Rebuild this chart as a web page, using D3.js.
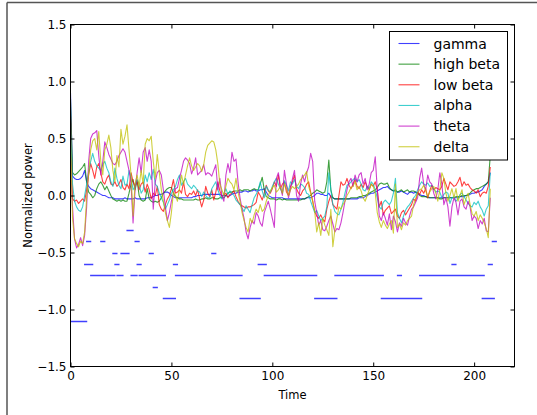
<!DOCTYPE html>
<html>
<head>
<meta charset="utf-8">
<script src="https://cdn.jsdelivr.net/npm/d3@7"></script>
<style>
  html, body { margin: 0; padding: 0; background: #fff; }
  svg { display: block; }
  text { font-family: "DejaVu Sans", sans-serif; fill: #000; }
</style>
</head>
<body>
<svg id="chart" width="537" height="415"></svg>
<script>
// Band power series, one value per time step (t = 0 .. 208)
const gamma = [0.90,0.17,0.15,0.14,0.14,0.15,0.17,0.22,0.12,0.08,
 0.06,0.05,0.04,0.03,0.02,0.01,0.00,0.00,-0.01,-0.02,
 -0.02,-0.02,-0.03,-0.03,-0.03,-0.03,-0.03,-0.02,-0.03,-0.03,
 -0.03,-0.03,-0.02,-0.03,-0.03,-0.03,-0.03,-0.03,-0.02,-0.02,
 -0.02,-0.01,0.00,0.00,0.01,0.01,0.02,0.03,0.03,0.02,
 0.00,-0.01,-0.02,-0.02,-0.02,-0.02,-0.02,-0.02,-0.02,-0.02,
 -0.02,-0.01,-0.01,0.00,0.00,0.00,0.01,0.01,0.01,0.01,
 0.01,0.01,0.01,0.01,0.01,0.00,0.00,0.00,-0.01,0.00,
 0.01,0.02,0.02,0.03,0.03,0.03,0.04,0.04,0.03,0.04,
 0.04,0.05,0.04,0.04,0.05,0.05,0.06,0.03,0.00,-0.01,
 -0.02,-0.02,-0.02,-0.02,-0.02,-0.02,-0.03,-0.03,-0.03,-0.03,
 -0.03,-0.03,-0.03,-0.03,-0.03,-0.03,-0.03,-0.02,-0.02,-0.02,
 -0.01,0.00,0.02,0.02,0.01,0.01,0.00,0.00,0.02,-0.01,
 -0.02,-0.03,-0.03,-0.03,-0.03,-0.03,-0.03,-0.03,-0.03,-0.03,
 -0.03,-0.03,-0.03,-0.02,-0.02,-0.02,-0.01,0.00,0.01,0.02,
 0.02,0.03,0.04,0.05,0.06,0.07,0.07,0.08,0.06,0.05,
 0.04,0.04,0.03,0.03,0.04,0.03,0.02,0.01,0.03,0.03,
 0.02,0.03,0.02,0.01,0.00,0.00,-0.01,-0.01,-0.02,-0.02,
 -0.02,-0.02,-0.02,-0.02,-0.02,-0.02,-0.02,-0.02,-0.02,-0.02,
 -0.02,-0.02,-0.02,-0.01,-0.01,-0.01,0.00,0.00,0.01,0.02,
 0.02,0.03,0.03,0.04,0.05,0.08,0.10,0.12,0.20];

const highBeta = [0.85,0.20,0.18,0.19,0.21,0.23,0.25,0.28,0.12,0.03,
 0.01,-0.02,0.00,0.06,0.10,0.12,0.09,0.05,0.08,0.04,
 0.00,-0.03,-0.04,-0.05,-0.04,-0.05,-0.04,-0.05,-0.05,0.02,
 0.10,0.14,0.05,0.13,0.00,-0.04,-0.05,-0.04,0.06,-0.03,
 -0.05,-0.06,-0.05,-0.06,-0.05,-0.02,0.02,0.04,0.06,0.07,
 0.07,0.02,-0.01,-0.02,-0.03,-0.03,-0.04,-0.04,-0.04,-0.04,
 -0.04,-0.04,-0.03,-0.04,-0.04,-0.03,-0.03,-0.02,-0.03,-0.03,
 -0.02,-0.02,-0.03,-0.03,-0.02,-0.02,-0.02,0.00,0.02,0.03,
 0.03,0.04,0.04,0.04,0.05,0.04,0.05,0.05,0.05,0.04,
 0.05,0.06,0.05,0.05,0.10,0.16,0.05,-0.01,-0.02,-0.03,
 -0.03,-0.03,-0.04,-0.03,-0.03,-0.04,-0.03,-0.04,-0.04,-0.04,
 -0.04,-0.04,-0.04,-0.04,-0.04,-0.03,-0.03,-0.02,-0.01,0.00,
 0.02,0.03,0.05,0.04,0.03,0.02,0.03,0.12,0.31,0.05,
 -0.02,-0.03,-0.03,-0.03,-0.03,-0.03,-0.03,-0.03,-0.03,-0.02,
 -0.02,-0.02,-0.02,-0.01,-0.01,0.00,0.00,0.01,0.02,0.03,
 0.04,0.05,0.07,0.10,0.11,0.10,0.10,0.11,0.07,0.05,
 0.04,0.05,0.03,0.04,0.05,0.03,0.04,0.05,0.03,0.04,
 0.04,0.03,0.02,0.00,-0.01,-0.01,-0.01,-0.02,-0.02,-0.02,
 -0.02,-0.02,-0.02,-0.03,-0.03,-0.02,-0.02,-0.02,-0.02,-0.02,
 -0.02,-0.01,-0.01,-0.01,0.00,0.00,0.00,0.01,0.02,0.04,
 0.05,0.06,0.06,0.07,0.08,0.09,0.10,0.12,0.35];

const lowBeta = [0.70,-0.03,-0.05,-0.04,-0.07,-0.05,-0.03,-0.05,0.05,0.18,
 0.28,0.22,0.15,0.25,0.28,0.20,0.12,0.10,0.15,0.18,
 0.10,0.09,0.12,0.08,0.10,0.14,0.07,0.05,0.10,0.06,
 0.20,0.12,0.08,0.13,0.05,0.10,0.12,0.03,0.10,0.05,
 -0.03,0.02,0.00,0.08,-0.08,-0.12,-0.14,-0.08,-0.03,0.00,
 0.06,0.14,0.02,0.03,0.05,0.02,0.12,0.01,-0.01,0.02,
 0.01,0.04,0.00,0.05,-0.03,-0.10,-0.04,0.08,0.02,-0.01,
 0.05,-0.04,0.03,0.12,0.04,-0.01,0.00,0.02,-0.02,0.01,
 0.02,0.04,-0.01,-0.05,-0.08,-0.09,-0.10,-0.11,-0.10,-0.10,
 -0.09,-0.08,-0.06,0.03,0.00,-0.04,0.02,0.09,0.04,0.02,
 0.06,0.12,0.08,0.18,0.06,0.10,0.12,0.03,0.00,0.08,
 0.12,0.18,0.06,0.02,0.00,0.04,0.06,0.10,0.12,0.03,
 -0.05,-0.14,-0.18,-0.20,-0.17,-0.21,-0.23,-0.12,-0.05,0.00,
 -0.08,-0.10,-0.12,0.00,0.12,0.09,0.10,0.15,0.09,0.06,
 0.10,0.14,0.08,0.06,0.10,0.07,0.12,0.08,0.05,0.10,
 0.08,0.12,0.05,-0.10,-0.05,-0.17,-0.13,-0.11,-0.09,-0.16,
 -0.14,-0.12,-0.18,-0.20,-0.15,-0.13,-0.17,-0.14,-0.11,-0.08,
 -0.03,-0.05,0.03,0.01,0.05,0.02,0.06,-0.02,0.04,0.09,
 0.05,0.07,0.06,0.05,0.08,0.15,0.10,0.05,0.12,0.10,
 0.08,0.09,0.12,0.16,0.08,0.12,0.09,0.10,0.07,0.05,
 0.04,0.02,0.05,-0.01,0.02,0.03,0.02,0.08,0.25];

const alpha = [0.62,0.10,-0.05,-0.10,-0.13,-0.14,-0.10,0.00,0.10,0.21,
 0.30,0.37,0.30,0.26,0.24,0.22,0.27,0.30,0.24,0.20,
 0.12,0.08,0.24,0.15,0.09,0.06,0.17,0.09,0.10,0.22,
 0.16,0.05,0.08,0.14,0.10,0.02,0.05,0.18,0.12,0.20,
 0.14,0.23,0.10,0.08,0.02,-0.02,-0.06,-0.12,-0.08,-0.04,
 0.02,0.05,0.08,0.14,0.18,0.09,0.12,0.15,0.10,0.08,
 0.06,0.09,0.07,0.04,0.03,-0.01,0.03,0.00,-0.02,-0.02,
 0.06,0.09,0.12,0.05,0.00,-0.03,0.02,0.06,0.01,0.04,
 0.02,0.00,-0.04,-0.06,-0.08,-0.11,-0.14,-0.09,-0.12,-0.15,
 -0.08,-0.02,0.01,0.05,0.12,0.04,-0.02,0.08,0.05,0.03,
 0.08,0.12,0.15,0.10,0.06,0.02,0.13,0.09,0.04,0.12,
 0.10,0.14,0.08,0.06,0.10,0.09,0.07,0.02,0.01,-0.05,
 -0.10,-0.15,-0.13,-0.18,-0.22,-0.20,-0.18,-0.10,0.20,0.05,
 -0.08,-0.14,-0.16,-0.17,-0.12,-0.06,0.02,0.09,0.10,0.12,
 0.14,0.15,0.12,0.14,0.10,0.05,0.04,0.08,0.06,0.12,
 0.10,0.05,-0.02,-0.10,-0.12,-0.06,-0.04,-0.06,-0.08,-0.05,
 0.02,0.15,-0.15,-0.20,-0.24,-0.18,-0.13,-0.10,-0.08,-0.05,
 -0.02,0.00,0.05,0.09,0.12,0.10,0.09,0.11,0.08,0.09,
 0.06,0.03,0.04,0.03,-0.02,0.01,0.03,0.02,-0.07,-0.02,
 -0.01,-0.05,-0.03,0.01,0.02,-0.01,-0.04,-0.07,-0.09,-0.10,
 -0.06,-0.08,-0.05,-0.10,-0.13,-0.18,-0.12,-0.09,0.20];

const theta = [0.30,-0.10,-0.38,-0.46,-0.43,-0.37,-0.44,-0.35,-0.10,0.30,
 0.50,0.54,0.55,0.57,0.35,0.18,0.30,0.47,0.42,0.36,
 0.32,0.28,0.27,0.30,0.35,0.38,0.41,0.38,0.30,0.22,
 0.10,-0.24,0.05,0.20,0.33,0.20,0.38,0.42,0.30,0.40,
 0.30,-0.12,0.12,0.20,0.22,0.18,0.05,-0.10,-0.22,-0.15,
 -0.05,0.02,0.06,0.07,0.15,0.22,0.30,0.33,0.31,0.28,
 0.19,0.24,0.33,0.18,0.20,0.22,0.27,0.18,0.20,0.19,
 0.17,0.22,0.27,0.05,0.15,0.00,-0.05,0.18,0.28,0.20,
 0.38,0.30,0.32,0.12,-0.02,-0.12,-0.20,-0.32,-0.38,-0.28,
 -0.22,-0.25,-0.15,-0.18,-0.24,-0.27,-0.15,-0.10,-0.05,-0.12,
 -0.20,-0.28,0.15,0.20,0.08,0.00,0.22,0.10,-0.02,0.05,
 0.15,0.22,0.00,-0.05,0.10,0.18,0.12,0.20,0.25,0.37,
 0.30,-0.05,-0.15,-0.26,-0.22,-0.30,-0.31,-0.27,-0.22,-0.18,
 -0.25,-0.32,-0.29,-0.30,-0.24,-0.15,-0.05,0.05,0.12,0.15,
 0.08,0.18,0.12,0.18,0.20,0.10,0.15,0.05,0.10,0.20,
 0.22,0.34,0.05,-0.18,-0.22,-0.15,-0.20,-0.26,-0.16,-0.30,
 -0.18,-0.23,-0.32,-0.24,-0.27,-0.20,-0.24,-0.26,-0.18,-0.12,
 -0.10,-0.06,-0.02,0.15,0.24,0.10,0.05,0.18,0.12,0.10,
 0.02,-0.03,0.05,0.20,0.10,-0.08,-0.02,-0.10,-0.27,-0.10,
 -0.02,-0.06,-0.17,-0.05,-0.03,-0.10,-0.12,-0.05,-0.10,-0.22,
 -0.18,-0.20,-0.29,-0.22,-0.25,-0.20,-0.31,-0.32,-0.02];

const delta = [0.50,-0.20,-0.38,-0.42,-0.45,-0.40,-0.42,-0.32,-0.02,0.20,
 0.40,0.48,0.50,0.40,0.56,0.30,0.18,0.40,0.45,0.53,
 0.42,0.22,0.12,0.35,0.25,0.58,0.45,0.52,0.62,0.40,
 0.18,-0.18,0.10,0.18,0.08,0.22,0.10,0.45,0.50,0.48,
 0.52,0.30,0.15,0.36,0.20,0.05,-0.05,-0.15,-0.22,-0.28,
 -0.15,0.03,0.00,-0.05,0.06,0.18,0.10,0.18,0.26,0.33,
 0.26,0.22,0.25,0.28,0.26,0.21,0.27,0.38,0.44,0.46,
 0.48,0.47,0.40,0.28,0.10,0.05,0.00,0.08,0.15,0.12,
 0.10,0.05,0.15,0.03,-0.05,-0.15,-0.22,-0.28,-0.32,-0.20,
 -0.24,-0.17,-0.12,-0.15,-0.08,-0.14,-0.12,-0.05,0.00,0.04,
 0.07,0.09,0.03,0.05,0.08,0.02,0.10,0.06,0.00,0.05,
 0.08,0.06,0.08,0.10,0.14,0.16,0.18,0.21,0.08,0.02,
 -0.05,-0.14,-0.32,-0.24,-0.35,-0.20,-0.26,-0.30,-0.35,-0.12,
 -0.45,-0.30,-0.20,-0.10,-0.12,-0.08,-0.05,0.00,0.03,0.07,
 0.08,0.12,0.05,0.08,0.04,-0.02,-0.05,0.00,0.05,0.10,
 0.08,0.02,-0.15,-0.23,-0.28,-0.22,-0.26,-0.29,-0.25,-0.22,
 -0.33,0.10,-0.28,-0.25,-0.30,-0.24,-0.26,-0.22,-0.20,-0.18,
 -0.08,-0.03,0.02,0.05,0.06,0.09,0.04,-0.01,0.03,0.06,
 0.08,0.02,-0.05,0.05,0.20,0.15,0.02,-0.05,0.00,0.06,
 -0.02,0.06,-0.05,0.00,0.05,-0.08,-0.03,0.02,-0.08,-0.16,
 -0.18,-0.14,-0.22,-0.17,-0.20,-0.24,-0.29,-0.37,0.06];

// Discrete state level at each time step (t = 0 .. 210)
const state = [-1.1,-1.1,-1.1,-1.1,-1.1,-1.1,-1.1,-1.1,-0.6,-0.4,
 -0.6,-0.7,-0.7,-0.7,-0.7,-0.7,-0.4,-0.7,-0.7,-0.7,
 -0.7,-0.7,-0.5,-0.6,-0.7,-0.7,-0.5,-0.5,-0.5,-0.3,
 -0.3,-0.7,-0.7,-0.4,-0.6,-0.7,-0.7,-0.7,-0.7,-0.7,
 -0.5,-0.7,-0.8,-0.7,-0.7,-0.7,-0.7,-0.9,-0.9,-0.9,
 -0.9,-0.9,-0.6,-0.7,-0.7,-0.7,-0.7,-0.7,-0.7,-0.7,
 -0.7,-0.7,-0.7,-0.7,-0.7,-0.7,-0.7,-0.7,-0.7,-0.7,
 -0.7,-0.5,-0.7,-0.7,-0.7,-0.7,-0.7,-0.7,-0.7,-0.7,
 -0.7,-0.7,-0.7,-0.7,-0.7,-0.9,-0.9,-0.9,-0.9,-0.9,
 -0.9,-0.9,-0.9,-0.9,-0.6,-0.6,-0.6,-0.7,-0.7,-0.7,
 -0.7,-0.7,-0.7,-0.7,-0.7,-0.7,-0.7,-0.7,-0.7,-0.7,
 -0.7,-0.7,-0.7,-0.7,-0.7,-0.7,-0.7,-0.7,-0.7,-0.7,
 -0.7,-0.7,-0.9,-0.9,-0.9,-0.9,-0.9,-0.9,-0.9,-0.9,
 -0.9,-0.9,-0.7,-0.7,-0.7,-0.7,-0.7,-0.7,-0.7,-0.7,
 -0.7,-0.7,-0.7,-0.7,-0.7,-0.7,-0.7,-0.7,-0.7,-0.7,
 -0.7,-0.7,-0.7,-0.7,-0.7,-0.9,-0.9,-0.9,-0.9,-0.9,
 -0.9,-0.9,-0.9,-0.7,-0.9,-0.9,-0.9,-0.9,-0.9,-0.9,
 -0.9,-0.9,-0.9,-0.9,-0.7,-0.7,-0.7,-0.7,-0.7,-0.7,
 -0.7,-0.7,-0.7,-0.7,-0.7,-0.7,-0.7,-0.7,-0.7,-0.7,
 -0.6,-0.7,-0.7,-0.7,-0.7,-0.7,-0.7,-0.7,-0.7,-0.7,
 -0.7,-0.7,-0.7,-0.7,-0.7,-0.9,-0.9,-0.9,-0.6,-0.9,
 -0.4];

const seriesNames = ["gamma", "high beta", "low beta", "alpha", "theta", "delta"];
const seriesValues = [gamma, highBeta, lowBeta, alpha, theta, delta];
const seriesColors = ["#0000ff", "#008000", "#ff0000", "#00bfbf", "#bf00bf", "#bfbf00"];

const xTicks = [0, 50, 100, 150, 200];
const yTicks = [-1.5, -1.0, -0.5, 0.0, 0.5, 1.0, 1.5];
const yTickLabels = ["\u22121.5", "\u22121.0", "\u22120.5", "0.0", "0.5", "1.0", "1.5"];
const xLabel = "Time";
const yLabel = "Normalized power";

const svg = d3.select("#chart");
const W = 537, H = 415;
const plot = { left: 70.5, right: 514.5, top: 24.5, bottom: 366.5 };

const x = d3.scaleLinear().domain([0, 220]).range([plot.left, plot.right]);
const y = d3.scaleLinear().domain([-1.5, 1.5]).range([plot.bottom, plot.top]);

// window frame along the top and left edges
svg.append("line").attr("x1", 7).attr("x2", W).attr("y1", 2.5).attr("y2", 2.5)
  .attr("stroke", "#555").attr("stroke-width", 1.5);
svg.append("line").attr("x1", 7).attr("x2", 7).attr("y1", 2.5).attr("y2", H)
  .attr("stroke", "#555").attr("stroke-width", 1.5);

svg.append("clipPath").attr("id", "plotclip").append("rect")
  .attr("x", plot.left).attr("y", plot.top)
  .attr("width", plot.right - plot.left).attr("height", plot.bottom - plot.top);

const g = svg.append("g").attr("clip-path", "url(#plotclip)");

const line = d3.line().x((d, i) => x(i)).y(d => y(d));
seriesValues.forEach((vals, k) => {
  g.append("path").datum(vals)
    .attr("d", line)
    .attr("fill", "none")
    .attr("stroke", seriesColors[k])
    .attr("stroke-opacity", 0.75)
    .attr("stroke-width", 1.1)
    .attr("stroke-linejoin", "round");
});

// state markers: a short horizontal dash at each time step, all in one path
// so that neighbouring dashes on the same level join into a solid run
const halfDash = 2.6;
const markerPath = d3.path();
state.forEach((v, i) => {
  const py = Math.round(y(v)) + 0.5;
  markerPath.moveTo(x(i) - halfDash, py);
  markerPath.lineTo(x(i) + halfDash, py);
});
g.append("path")
  .attr("d", markerPath.toString())
  .attr("fill", "none")
  .attr("stroke", "#0000ff")
  .attr("stroke-opacity", 0.75)
  .attr("stroke-width", 1.3);

// axes box
svg.append("rect")
  .attr("x", plot.left).attr("y", plot.top)
  .attr("width", plot.right - plot.left).attr("height", plot.bottom - plot.top)
  .attr("fill", "none").attr("stroke", "#000").attr("stroke-width", 1);

// inward ticks on all four sides
const tickLen = 4;
const bottomAxis = d3.axisBottom(x).tickValues(xTicks).tickSizeInner(-tickLen).tickSizeOuter(0)
  .tickPadding(5).tickFormat(d3.format("d"));
const topAxis = d3.axisTop(x).tickValues(xTicks).tickSizeInner(-tickLen).tickSizeOuter(0).tickFormat("");
const leftAxis = d3.axisLeft(y).tickValues(yTicks).tickSizeInner(-tickLen).tickSizeOuter(0)
  .tickPadding(4).tickFormat((d, i) => yTickLabels[i]);
const rightAxis = d3.axisRight(y).tickValues(yTicks).tickSizeInner(-tickLen).tickSizeOuter(0).tickFormat("");

function styleAxis(sel) {
  sel.select(".domain").remove();
  sel.selectAll(".tick line").attr("stroke", "#000");
  sel.selectAll(".tick text").attr("font-family", "DejaVu Sans, sans-serif")
    .attr("font-size", 12).attr("fill", "#000");
}
svg.append("g").attr("transform", `translate(0,${plot.bottom})`).call(bottomAxis).call(styleAxis);
svg.append("g").attr("transform", `translate(0,${plot.top})`).call(topAxis).call(styleAxis);
svg.append("g").attr("transform", `translate(${plot.left},0)`).call(leftAxis).call(styleAxis);
svg.append("g").attr("transform", `translate(${plot.right},0)`).call(rightAxis).call(styleAxis);

// axis titles
svg.append("text").attr("x", (plot.left + plot.right) / 2).attr("y", 398.5)
  .attr("text-anchor", "middle").attr("font-size", 11.5).text(xLabel);
svg.append("text")
  .attr("transform", `translate(31.5,${(plot.top + plot.bottom) / 2}) rotate(-90)`)
  .attr("text-anchor", "middle").attr("font-size", 11.5).text(yLabel);

// legend
const lg = svg.append("g");
lg.append("rect").attr("x", 389.5).attr("y", 31.5).attr("width", 118).attr("height", 128.5)
  .attr("fill", "#fff").attr("stroke", "#000").attr("stroke-width", 1);
seriesNames.forEach((name, k) => {
  const cy = 43.5 + k * 20.65;
  lg.append("line").attr("x1", 398.5).attr("x2", 419.5).attr("y1", cy).attr("y2", cy)
    .attr("stroke", seriesColors[k]).attr("stroke-opacity", 0.75).attr("stroke-width", 1.1);
  lg.append("text").attr("x", 433.5).attr("y", cy).attr("dy", "0.36em")
    .attr("font-size", 14).text(name);
});
</script>
</body>
</html>
